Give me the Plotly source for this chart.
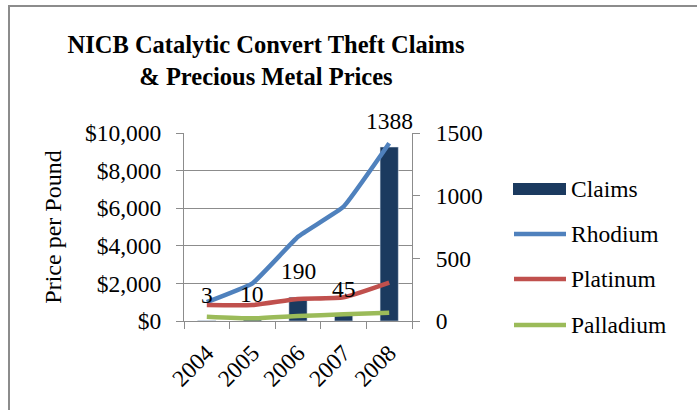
import plotly.graph_objects as go

years = ["2004", "2005", "2006", "2007", "2008"]
claims = [3, 10, 190, 45, 1388]
rhodium = [1000, 2000, 4480, 6080, 9450]
platinum = [850, 850, 1170, 1260, 2040]
palladium = [230, 140, 265, 355, 440]

series_names = ["Claims", "Rhodium", "Platinum", "Palladium"]
series_colors = ["#1B3A5F", "#4F81BD", "#C0504D", "#9BBB59"]

FONT = "Liberation Serif"
FS = 23.5
W, H = 697, 410
L, R, T, B = 184, 412, 133, 321

fig = go.Figure()
fig.add_trace(go.Bar(x=years, y=claims, name=series_names[0], marker_color=series_colors[0],
                     width=0.4, yaxis="y"))
for name, col, vals, sm in zip(series_names[1:], series_colors[1:],
                               [rhodium, platinum, palladium], [0.3, 0.5, 0.5]):
    fig.add_trace(go.Scatter(x=years, y=vals, name=name, mode="lines",
                             line=dict(color=col, width=4.5, shape="spline", smoothing=sm),
                             yaxis="y2"))

for i, c in enumerate(claims):
    fig.add_annotation(x=i, y=c, xref="x", yref="y", text=str(c), showarrow=False,
                       yanchor="bottom", yshift=11, font=dict(family=FONT, size=FS, color="black"))

pw, ph = R - L, B - T
def px(x):
    return (x - L) / pw
def py(y):
    return (B - y) / ph

shapes = [
    dict(type="line", xref="paper", yref="paper", x0=px(9), x1=px(9), y0=py(5), y1=py(H + 5),
         line=dict(color="#8C8C8C", width=2)),
    dict(type="line", xref="paper", yref="paper", x0=px(8), x1=px(W + 5), y0=py(6), y1=py(6),
         line=dict(color="#8C8C8C", width=2)),
]

# manual legend
leg_y = [189, 234, 279, 325]
for k, (name, col, yy) in enumerate(zip(series_names, series_colors, leg_y)):
    if k == 0:
        shapes.append(dict(type="rect", xref="paper", yref="paper", x0=px(513), x1=px(566),
                           y0=py(yy - 6), y1=py(yy + 6), fillcolor=col, line=dict(width=0)))
    else:
        shapes.append(dict(type="line", xref="paper", yref="paper", x0=px(514), x1=px(566),
                           y0=py(yy), y1=py(yy), line=dict(color=col, width=4.5)))
    fig.add_annotation(x=px(569), y=py(yy), xref="paper", yref="paper", text=name,
                       showarrow=False, xanchor="left", yanchor="middle",
                       font=dict(family=FONT, size=FS, color="black"))

grid = "#8C8C8C"
fig.update_layout(
    width=W, height=H,
    margin=dict(l=L, r=W - R, t=T, b=H - B, autoexpand=False),
    paper_bgcolor="white", plot_bgcolor="white",
    font=dict(family=FONT, size=FS, color="black"),
    title=dict(text="<b>NICB Catalytic Convert Theft Claims<br>&amp; Precious Metal Prices</b>",
               x=266 / W, xanchor="center", y=1 - 53 / H, yanchor="middle",
               font=dict(family=FONT, size=24.5, color="black")),
    xaxis=dict(type="category", range=[-0.5, 4.5], tickangle=-45, showline=True, linecolor=grid,
               linewidth=1, ticks="outside", ticklen=7, tickcolor=grid, tickson="boundaries",
               showgrid=False, tickfont=dict(size=FS), ticklabelstandoff=8),
    yaxis=dict(range=[0, 1500], tickvals=[0, 500, 1000, 1500], side="right", showgrid=False,
               showline=True, linecolor=grid, ticks="outside", ticklen=7, tickcolor=grid,
               tickfont=dict(size=FS), zeroline=False, ticklabelstandoff=11),
    yaxis2=dict(range=[0, 10000], dtick=2000, tickprefix="$", tickformat=",", side="left",
                overlaying="y", showgrid=True, gridcolor=grid, gridwidth=1, showline=True,
                linecolor=grid, ticks="outside", ticklen=7, tickcolor=grid, zeroline=False,
                tickfont=dict(size=FS), ticklabelstandoff=10,
                title=dict(text="Price per Pound", font=dict(size=24), standoff=16)),
    showlegend=False,
    shapes=shapes,
)
fig.write_html("out.html", config={"displayModeBar": False},
               post_script="document.body.style.margin='0px';")
